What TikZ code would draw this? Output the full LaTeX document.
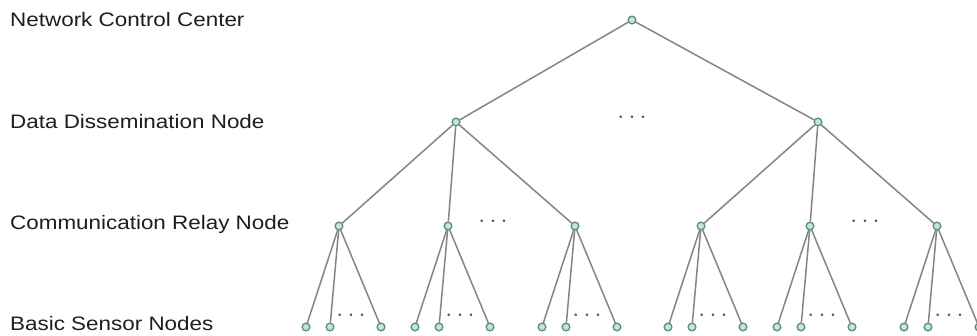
\documentclass[tikz,border=0pt]{standalone}
\usepackage{fontspec}
\setmainfont{Liberation Sans}
\definecolor{edgegray}{HTML}{858585}
\definecolor{dotfill}{HTML}{C6E6DC}
\definecolor{dotline}{HTML}{5A9082}
\definecolor{labelcol}{HTML}{1E1E1E}
\definecolor{ellcol}{HTML}{555555}
\begin{document}
\begin{tikzpicture}[x=1pt,y=-1pt,
  vnode/.style={circle,draw=dotline,fill=dotfill,line width=1.2pt,inner sep=0pt,minimum size=7.5pt},
  link/.style={draw=edgegray,line width=1.5pt},
  lvl/.style={anchor=base west,inner sep=0pt,text=labelcol,font=\fontsize{19.5}{22}\selectfont},
  ell/.style={inner sep=0pt,text=ellcol,font=\fontsize{26}{26}\selectfont}]
\useasboundingbox (0,0) rectangle (977,335);
\fill[white] (0,0) rectangle (977,335);
% labels
\node[lvl] (l1) at (10,26) {\scalebox{1.15}[1]{Network Control Center}};
\node[lvl] (l2) at (10,128) {\scalebox{1.15}[1]{Data Dissemination Node}};
\node[lvl] (l3) at (10,229) {\scalebox{1.15}[1]{Communication Relay Node}};
\node[lvl] (l4) at (10,330) {\scalebox{1.15}[1]{Basic Sensor Nodes}};
% nodes
\node[vnode] (r) at (632,20) {};
\node[vnode] (a) at (456,122) {};
\node[vnode] (b) at (818,122) {};
\foreach \n/\x in {a1/339,a2/448,a3/575,b1/701,b2/810,b3/937}{
  \node[vnode] (\n) at (\x,226) {};
  \node[vnode] (\n-1) at (\x-33,327) {};
  \node[vnode] (\n-2) at (\x-9,327) {};
  \node[vnode] (\n-3) at (\x+42,327) {};
  \node[ell] (\n-e) at (\x+12,316) {$\cdots$};
}
% links
\draw[link] (r) -- (a);
\draw[link] (r) -- (b);
\foreach \p in {a,b}{
  \foreach \c in {1,2,3}{
    \draw[link] (\p) -- (\p\c);
    \foreach \l in {1,2,3}{
      \draw[link] (\p\c) -- (\p\c-\l);
    }
  }
}
% redraw nodes on top
\foreach \n in {r,a,b,a1,a2,a3,b1,b2,b3}{
  \path (\n) node[vnode] {};
}
\foreach \n in {a1,a2,a3,b1,b2,b3}{
  \foreach \l in {1,2,3}{
    \path (\n-\l) node[vnode] {};
  }
}
\node[ell] (e2) at (632,118) {$\cdots$};
\node[ell] (ea) at (493,222) {$\cdots$};
\node[ell] (eb) at (865,222) {$\cdots$};
\end{tikzpicture}
\end{document}
